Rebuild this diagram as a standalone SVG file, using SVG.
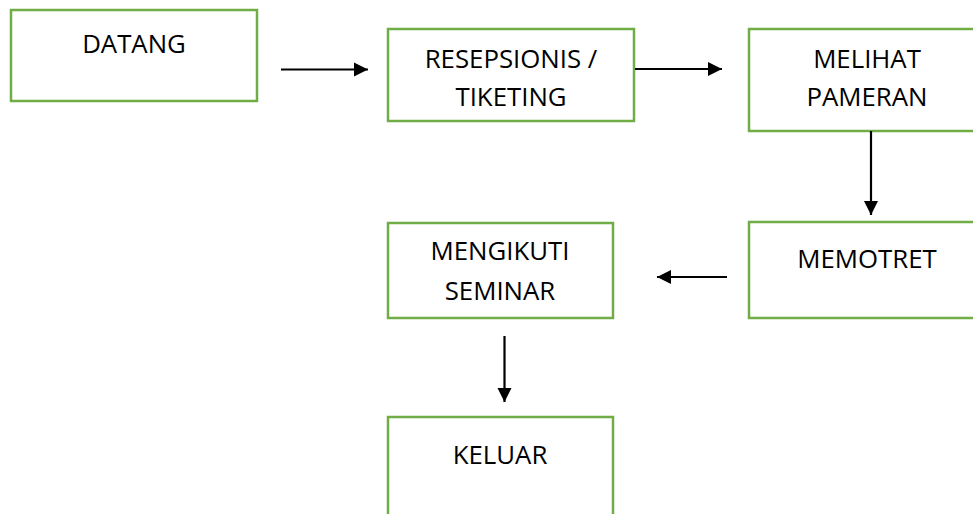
<svg xmlns="http://www.w3.org/2000/svg" width="973" height="514" viewBox="0 0 973 514">
<defs>
<marker id="ah" viewBox="0 0 10 10" refX="10" refY="5" markerWidth="6.5" markerHeight="6.5" markerUnits="strokeWidth" orient="auto">
<path d="M0,0 L10,5 L0,10 Z" fill="#000"/>
</marker>
<style>
.box{fill:#fff;stroke:#70AD47;stroke-width:2.5}
.t{font-family:"Open Sans","Liberation Sans",Arial,sans-serif;font-size:25.8px;fill:#000;text-anchor:middle}
.c{stroke:#000;stroke-width:2.2;fill:none;marker-end:url(#ah)}
</style>
</defs>
<rect width="973" height="514" fill="#fff"/>
<g id="datang"><rect class="box" x="11" y="10" width="246" height="91"/><text class="t" x="134" y="53">DATANG</text></g>
<g id="resepsionis"><rect class="box" x="388" y="29" width="246" height="92"/><text class="t" x="511" y="68">RESEPSIONIS /</text><text class="t" x="511" y="106">TIKETING</text></g>
<g id="melihat"><rect class="box" x="749" y="29" width="240" height="102"/><text class="t" x="867" y="68">MELIHAT</text><text class="t" x="867" y="106">PAMERAN</text></g>
<g id="memotret"><rect class="box" x="749" y="222" width="240" height="96"/><text class="t" x="867" y="268">MEMOTRET</text></g>
<g id="mengikuti"><rect class="box" x="388" y="223" width="225" height="95"/><text class="t" x="500" y="260">MENGIKUTI</text><text class="t" x="500" y="300">SEMINAR</text></g>
<g id="keluar"><rect class="box" x="388" y="417" width="225" height="110"/><text class="t" x="500" y="464">KELUAR</text></g>
<g id="connectors">
<line class="c" x1="281" y1="69.5" x2="368" y2="69.5"/>
<line class="c" x1="635" y1="69" x2="722" y2="69"/>
<line class="c" x1="871" y1="131" x2="871" y2="215"/>
<line class="c" x1="727" y1="277" x2="657" y2="277"/>
<line class="c" x1="504.5" y1="336" x2="504.5" y2="402"/>
</g>
</svg>
